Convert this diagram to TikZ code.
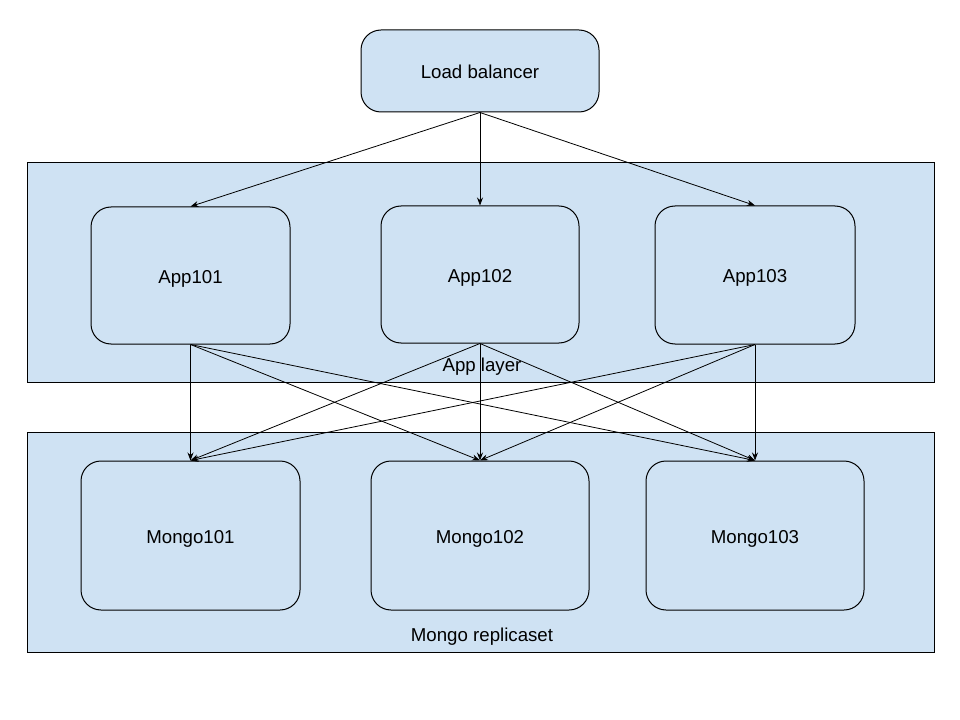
\documentclass[tikz,border=0pt]{standalone}
\usepackage{fontspec}
\setmainfont{Liberation Sans}
\usepackage{xcolor}
\usetikzlibrary{positioning, calc, arrows.meta}

\definecolor{boxblue}{HTML}{CFE2F3}

\begin{document}
\begin{tikzpicture}[x=0.75pt, y=-0.75pt,
    every node/.style={font=\fontsize{14}{16}\selectfont, text height=12pt, text depth=0pt},
    layer/.style={draw, fill=boxblue, line width=0.75pt, inner sep=0pt},
    server/.style={draw, fill=boxblue, rounded corners=15pt, line width=0.75pt, inner sep=0pt},
    link/.style={line width=0.6pt, -{Stealth[length=6pt, width=4.5pt]}}]
        \useasboundingbox (0,0) rectangle (960,720);
        % layers
        \node[layer, minimum width=680.25pt, minimum height=164.25pt] (applayer) at (480.5,272.5) {};
        \node[layer, minimum width=680.25pt, minimum height=165pt] (mongolayer) at (480.5,542) {};
        \node (applabel) at (482,363) {App layer};
        \node (mongolabel) at (482,633) {Mongo replicaset};
        % boxes
        \node[server, minimum width=178.5pt, minimum height=61.5pt] (lb) at (480,71) {Load balancer};
        \node[server, minimum width=149.25pt, minimum height=102.75pt] (app1) at (190.5,275.5) {App101};
        \node[server, minimum width=148.5pt, minimum height=102.75pt] (app2) at (480,274.5) {App102};
        \node[server, minimum width=150pt, minimum height=103.5pt] (app3) at (755,275) {App103};
        \node[server, minimum width=164.25pt, minimum height=111.75pt] (mongo1) at (190.5,535.5) {Mongo101};
        \node[server, minimum width=163.5pt, minimum height=111.75pt] (mongo2) at (480,535.5) {Mongo102};
        \node[server, minimum width=163.5pt, minimum height=111.75pt] (mongo3) at (755,535.5) {Mongo103};
        % traffic
        \foreach \a in {app1,app2,app3}
            \draw[link] (lb.south) -- (\a.north);
        \foreach \a in {app1,app2,app3}
            \foreach \m in {mongo1,mongo2,mongo3}
                \draw[link] (\a.south) -- (\m.north);
    \end{tikzpicture}
\end{document}
